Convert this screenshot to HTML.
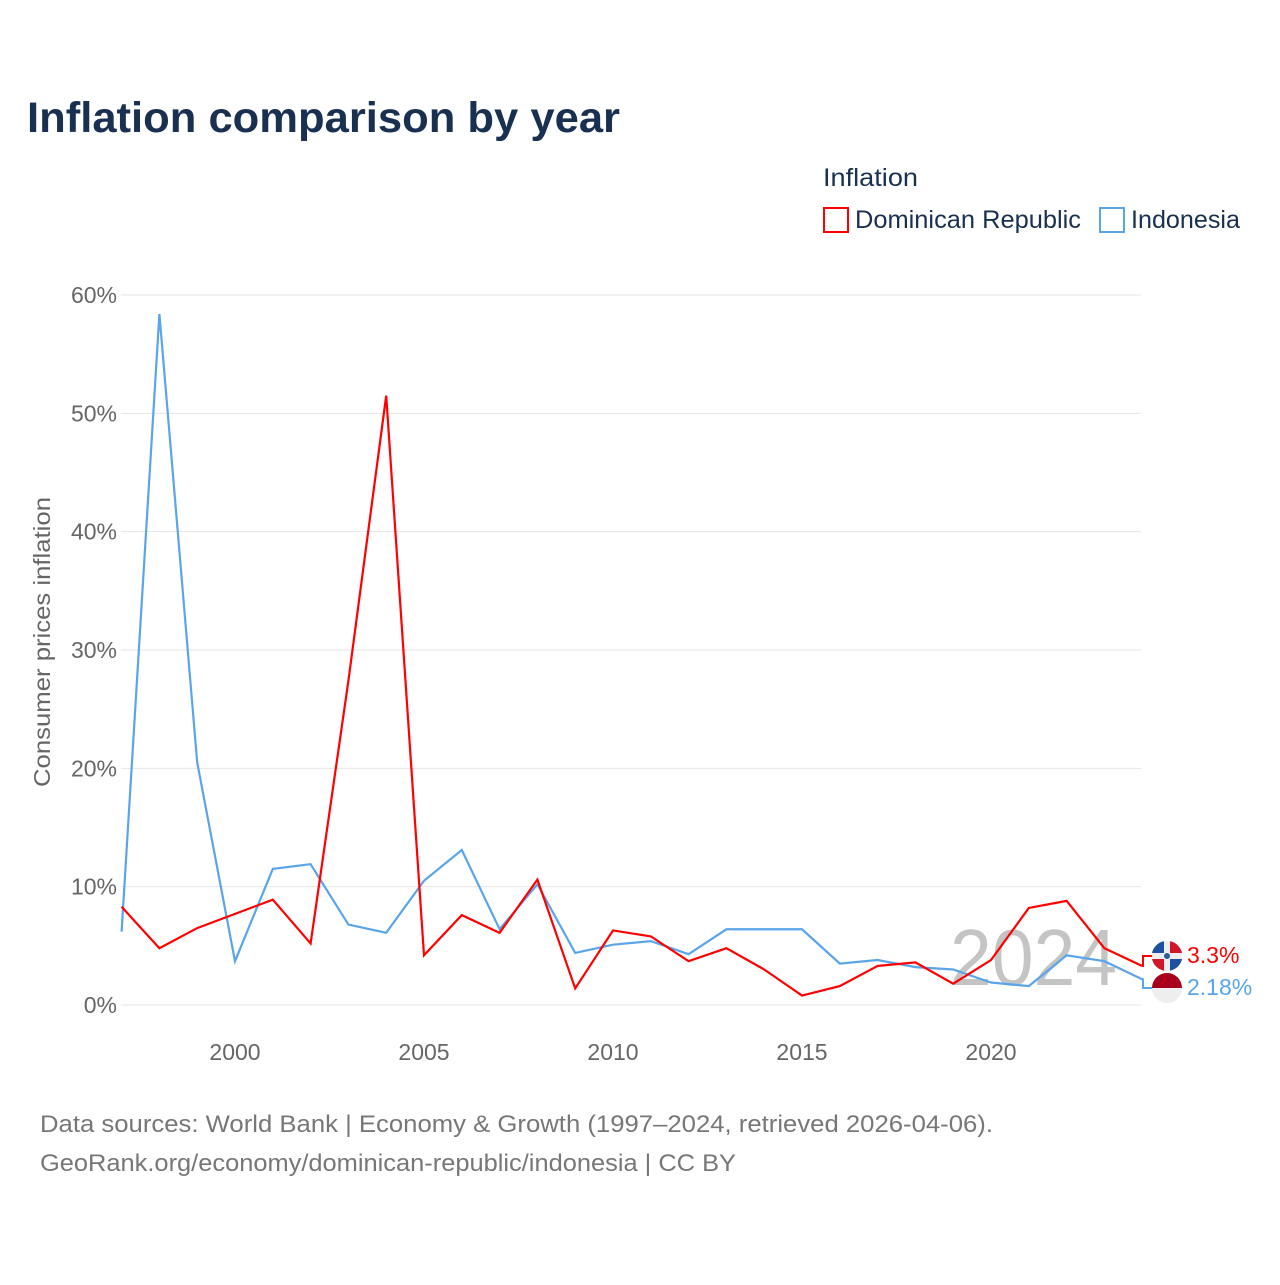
<!DOCTYPE html>
<html><head><meta charset="utf-8"><style>
body{margin:0;background:#fff;font-family:"Liberation Sans",sans-serif;}
svg text{font-family:"Liberation Sans",sans-serif;}
</style></head><body>
<svg id="chart" width="1280" height="1280">
<text x="27" y="132" font-size="43" font-weight="bold" fill="#1a3050" textLength="593" lengthAdjust="spacingAndGlyphs">Inflation comparison by year</text>
<text x="823" y="186" font-size="25" fill="#1a3050" textLength="95" lengthAdjust="spacingAndGlyphs">Inflation</text>
<g><rect x="824" y="208" width="24" height="24" fill="#fff" stroke="#f00" stroke-width="2"/><text x="855" y="228" font-size="25" fill="#1a3050" textLength="226" lengthAdjust="spacingAndGlyphs">Dominican Republic</text></g>
<g><rect x="1100" y="208" width="24" height="24" fill="#fff" stroke="#5aa5ea" stroke-width="2"/><text x="1131" y="228" font-size="25" fill="#1a3050" textLength="109" lengthAdjust="spacingAndGlyphs">Indonesia</text></g>
<g id="grid"></g><g id="yt"></g><g id="xt"></g>
<text x="950" y="985" font-size="80" fill="#c4c4c4" textLength="167" lengthAdjust="spacingAndGlyphs">2024</text>
<g id="lines"></g>
<text transform="translate(50,642) rotate(-90)" font-size="23" fill="#666" text-anchor="middle" textLength="290" lengthAdjust="spacingAndGlyphs">Consumer prices inflation</text>
<text x="40" y="1132" font-size="24" fill="#777" textLength="953" lengthAdjust="spacingAndGlyphs">Data sources: World Bank | Economy &amp; Growth (1997–2024, retrieved 2026-04-06).</text>
<text x="40" y="1171" font-size="24" fill="#777" textLength="696" lengthAdjust="spacingAndGlyphs">GeoRank.org/economy/dominican-republic/indonesia | CC BY</text>
</svg>
<script>
const years=[1997,1998,1999,2000,2001,2002,2003,2004,2005,2006,2007,2008,2009,2010,2011,2012,2013,2014,2015,2016,2017,2018,2019,2020,2021,2022,2023,2024];
const drValues=[8.3,4.8,6.5,7.7,8.9,5.2,27.4,51.5,4.2,7.6,6.1,10.6,1.4,6.3,5.8,3.7,4.8,3.0,0.8,1.6,3.3,3.6,1.8,3.8,8.2,8.8,4.8,3.3];
const idValues=[6.2,58.4,20.5,3.7,11.5,11.9,6.8,6.1,10.5,13.1,6.4,10.2,4.4,5.1,5.4,4.3,6.4,6.4,6.4,3.5,3.8,3.2,3.0,1.9,1.6,4.2,3.7,2.18];
const yTicks=[0,10,20,30,40,50,60];
const xTicks=[2000,2005,2010,2015,2020];
const NS="http://www.w3.org/2000/svg";
const X=y=>121.6+(y-1997)*37.8, Y=v=>1005-v*11.833;
function mk(t,a,p){const e=document.createElementNS(NS,t);for(const k in a)e.setAttribute(k,a[k]);p.appendChild(e);return e;}
const grid=document.getElementById('grid'),yt=document.getElementById('yt'),xt=document.getElementById('xt'),lines=document.getElementById('lines');
yTicks.forEach(v=>{const l=mk('line',{x1:121,x2:1141,y1:Y(v),y2:Y(v),stroke:'#e6e6e6','stroke-width':1},grid);


const t=mk('text',{x:117,y:Y(v)+8,'font-size':23,fill:'#666','text-anchor':'end'},yt);t.textContent=v+'%';

});
xTicks.forEach(v=>{const t=mk('text',{x:X(v),y:1060,'font-size':23,fill:'#666','text-anchor':'middle'},xt);t.textContent=v;

});
function line(vals,col,name){const p=mk('polyline',{points:vals.map((v,i)=>X(years[i])+','+Y(v)).join(' '),fill:'none',stroke:col,'stroke-width':2.2},lines);

}
line(idValues,'#5aa5ea','line-indonesia');
line(drValues,'#f00','line-dominican-republic');
const last=years.length-1;
const dy=Y(drValues[last]), iy=Y(idValues[last]);
const dl=mk('polyline',{points:`${X(2024)},${dy} 1143,${dy} 1143,956 1153,956`,fill:'none',stroke:'#f00','stroke-width':2},lines);


const il=mk('polyline',{points:`${X(2024)},${iy} 1143,${iy} 1143,988 1153,988`,fill:'none',stroke:'#5aa5ea','stroke-width':2},lines);


const fd=mk('g',{},lines);


mk('circle',{cx:1167,cy:956,r:15,fill:'#eee'},fd);
mk('path',{d:'M1152,953 A15,15 0 0 1 1164,941.3 L1164,953 Z',fill:'#1f4fa0'},fd);
mk('path',{d:'M1170,941.3 A15,15 0 0 1 1182,953 L1170,953 Z',fill:'#d0182a'},fd);
mk('path',{d:'M1152,959 L1164,959 L1164,970.7 A15,15 0 0 1 1152,959 Z',fill:'#d0182a'},fd);
mk('path',{d:'M1170,959 L1182,959 A15,15 0 0 1 1170,970.7 Z',fill:'#1f4fa0'},fd);
mk('circle',{cx:1167,cy:956,r:3,fill:'#2a5aa0'},fd);
const fi=mk('g',{},lines);


mk('circle',{cx:1167,cy:988,r:15,fill:'#eee'},fi);
mk('path',{d:'M1152,988 A15,15 0 0 1 1182,988 Z',fill:'#a8001c'},fi);
const t1=mk('text',{x:1187,y:963,'font-size':23,fill:'#f00'},lines);t1.textContent=drValues[last]+'%';


const t2=mk('text',{x:1187,y:995,'font-size':23,fill:'#5aa5ea'},lines);t2.textContent=idValues[last]+'%';


</script>
</body></html>
